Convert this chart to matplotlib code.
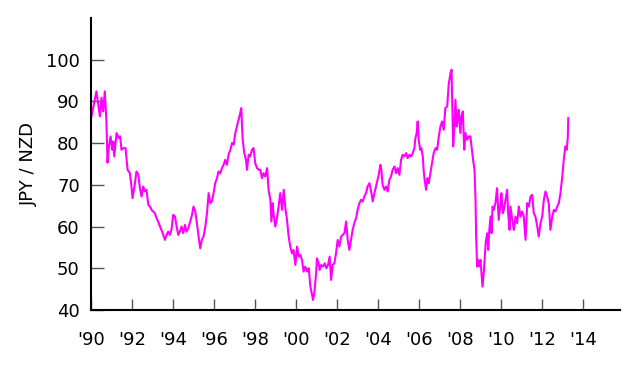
import numpy as np
import matplotlib
matplotlib.use("Agg")
import matplotlib.pyplot as plt

# JPY per NZD, decimal year vs rate
years = [
    1990.03, 1990.27, 1990.44, 1990.52, 1990.60, 1990.68, 1990.76, 1990.81, 1990.88, 1990.96,
    1991.04, 1991.09, 1991.14, 1991.25, 1991.37, 1991.43, 1991.49, 1991.58, 1991.69, 1991.79,
    1991.90, 1991.98, 1992.03, 1992.15, 1992.22, 1992.31, 1992.39, 1992.47, 1992.55, 1992.63,
    1992.71, 1992.80, 1992.88, 1992.96, 1993.04, 1993.12, 1993.20, 1993.28, 1993.37, 1993.44,
    1993.53, 1993.61, 1993.69, 1993.77, 1993.85, 1993.93, 1994.01, 1994.10, 1994.18, 1994.26,
    1994.34, 1994.42, 1994.50, 1994.59, 1994.66, 1994.75, 1994.93, 1995.00, 1995.09, 1995.17,
    1995.25, 1995.33, 1995.41, 1995.49, 1995.58, 1995.66, 1995.74, 1995.82, 1995.90, 1995.98,
    1996.06, 1996.15, 1996.22, 1996.31, 1996.39, 1996.47, 1996.55, 1996.63, 1996.71, 1996.80,
    1996.88, 1996.96, 1997.04, 1997.12, 1997.20, 1997.28, 1997.33, 1997.40, 1997.48, 1997.56,
    1997.61, 1997.69, 1997.77, 1997.85, 1997.93, 1998.01, 1998.10, 1998.18, 1998.26, 1998.34,
    1998.42, 1998.50, 1998.59, 1998.66, 1998.75, 1998.80, 1998.86, 1998.91, 1998.99, 1999.07,
    1999.15, 1999.23, 1999.32, 1999.40, 1999.48, 1999.56, 1999.64, 1999.72, 1999.80, 1999.88,
    1999.97, 2000.05, 2000.13, 2000.21, 2000.29, 2000.37, 2000.45, 2000.54, 2000.62, 2000.70,
    2000.78, 2000.83, 2000.89, 2000.98, 2001.02, 2001.10, 2001.15, 2001.23, 2001.32, 2001.40,
    2001.48, 2001.56, 2001.64, 2001.71, 2001.79, 2001.87, 2001.95, 2002.03, 2002.11, 2002.20,
    2002.27, 2002.36, 2002.44, 2002.52, 2002.60, 2002.68, 2002.76, 2002.84, 2002.93, 2003.00,
    2003.09, 2003.17, 2003.25, 2003.33, 2003.41, 2003.49, 2003.58, 2003.66, 2003.74, 2003.82,
    2003.90, 2004.03, 2004.11, 2004.16, 2004.22, 2004.31, 2004.39, 2004.47, 2004.55, 2004.63,
    2004.71, 2004.80, 2004.88, 2004.96, 2005.04, 2005.12, 2005.20, 2005.28, 2005.37, 2005.44,
    2005.53, 2005.61, 2005.69, 2005.77, 2005.82, 2005.88, 2005.93, 2005.98, 2006.05, 2006.11,
    2006.18, 2006.22, 2006.27, 2006.34, 2006.41, 2006.47, 2006.55, 2006.63, 2006.71, 2006.80,
    2006.88, 2006.96, 2007.04, 2007.12, 2007.20, 2007.28, 2007.37, 2007.44, 2007.53, 2007.58,
    2007.62, 2007.66, 2007.72, 2007.77, 2007.83, 2007.88, 2007.93, 2008.01, 2008.06, 2008.13,
    2008.20, 2008.26, 2008.34, 2008.42, 2008.50, 2008.63, 2008.70, 2008.75, 2008.78, 2008.83,
    2008.88, 2008.94, 2008.99, 2009.04, 2009.09, 2009.15, 2009.20, 2009.25, 2009.32, 2009.37,
    2009.41, 2009.48, 2009.53, 2009.58, 2009.64, 2009.72, 2009.80, 2009.88, 2009.97, 2010.01,
    2010.08, 2010.13, 2010.21, 2010.29, 2010.34, 2010.41, 2010.45, 2010.54, 2010.62, 2010.70,
    2010.78, 2010.86, 2010.94, 2011.02, 2011.10, 2011.19, 2011.27, 2011.35, 2011.43, 2011.51,
    2011.59, 2011.67, 2011.76, 2011.83, 2011.92, 2012.00, 2012.08, 2012.16, 2012.24, 2012.32,
    2012.40, 2012.49, 2012.57, 2012.65, 2012.73, 2012.81, 2012.89, 2012.98, 2013.05, 2013.13,
    2013.20, 2013.25, 2013.27,
]
rates = [
    86.4, 92.4, 86.4, 90.9, 87.6, 92.4, 84.9, 75.3, 79.2, 81.6,
    78.4, 80.4, 76.8, 82.4, 81.2, 81.6, 78.4, 78.8, 78.8, 73.6,
    72.8, 69.6, 66.8, 70.4, 73.2, 72.5, 69.2, 67.2, 69.6, 68.4,
    68.8, 65.2, 64.8, 64.0, 63.6, 63.2, 62.0, 61.2, 60.0, 59.2,
    58.0, 56.8, 58.0, 58.8, 58.0, 59.2, 62.8, 62.4, 60.0, 58.0,
    58.8, 60.0, 58.4, 60.4, 58.8, 59.6, 62.8, 64.8, 63.6, 60.8,
    57.6, 54.8, 56.8, 57.6, 60.0, 63.2, 68.0, 65.6, 66.0, 68.0,
    70.4, 71.6, 73.2, 72.8, 74.0, 74.8, 76.0, 74.8, 77.2, 78.4,
    80.0, 79.6, 82.4, 84.0, 85.6, 87.2, 88.4, 80.8, 77.6, 76.0,
    73.6, 77.2, 76.8, 78.4, 78.8, 75.2, 74.0, 73.6, 73.6, 71.6,
    72.8, 72.0, 74.0, 68.8, 66.4, 61.2, 65.6, 62.8, 60.0, 62.0,
    64.8, 68.0, 64.0, 68.8, 64.4, 61.6, 57.6, 55.2, 53.6, 54.4,
    50.8, 55.2, 52.8, 53.2, 52.0, 49.2, 50.4, 49.2, 50.0, 45.6,
    43.6, 42.4, 44.0, 48.8, 52.4, 51.2, 49.6, 50.8, 50.4, 51.2,
    50.0, 50.8, 52.8, 47.2, 50.8, 51.2, 53.6, 56.8, 55.2, 57.6,
    58.0, 58.4, 61.2, 56.8, 54.4, 56.8, 59.2, 60.8, 62.0, 64.0,
    65.6, 66.4, 66.0, 67.2, 68.0, 69.6, 70.4, 68.4, 66.0, 68.0,
    69.6, 72.4, 74.8, 73.6, 70.0, 68.8, 69.6, 68.4, 71.2, 72.0,
    73.6, 74.4, 72.8, 74.0, 72.4, 76.0, 77.2, 76.8, 77.6, 76.4,
    77.2, 76.8, 77.6, 78.8, 81.2, 82.4, 85.2, 80.8, 78.4, 78.8,
    76.8, 73.6, 71.2, 68.8, 71.6, 70.4, 72.8, 75.2, 77.6, 78.8,
    78.4, 81.6, 84.0, 85.2, 83.2, 88.4, 88.8, 94.0, 96.8, 97.6,
    88.0, 79.2, 84.0, 90.4, 84.0, 85.6, 88.0, 82.4, 86.4, 87.6,
    78.4, 82.4, 80.8, 81.6, 81.6, 76.0, 73.6, 66.4, 57.6, 50.4,
    52.0, 50.4, 52.0, 48.8, 45.6, 48.8, 52.8, 56.4, 58.4, 54.4,
    58.4, 62.4, 58.4, 64.8, 64.0, 65.6, 69.2, 61.6, 65.6, 68.0,
    63.2, 64.0, 66.4, 68.8, 63.2, 59.2, 64.8, 61.6, 59.2, 62.4,
    60.8, 64.8, 62.4, 63.6, 62.4, 56.8, 65.6, 64.8, 67.2, 67.6,
    63.2, 62.4, 60.0, 57.6, 60.8, 62.4, 66.4, 68.4, 67.2, 65.6,
    59.2, 62.4, 64.0, 63.6, 64.8, 65.6, 68.0, 72.0, 76.0, 79.2,
    78.4, 81.6, 86.0,
]

xticks = list(range(1990, 2015, 2))
xtick_labels = ["'%02d" % (y % 100) for y in xticks]
yticks = [40, 50, 60, 70, 80, 90, 100]

fig = plt.figure(figsize=(6.4, 3.66), dpi=100)
ax = fig.add_axes([0.142, 0.153, 0.827, 0.798])

ax.plot(years, rates, color='#ff00ff', linewidth=1.5)

ax.set_xlim(1990, 2015.8)
ax.set_ylim(40, 110)
ax.set_xticks(xticks)
ax.set_xticklabels(xtick_labels)
ax.set_yticks(yticks)

for side in ['top', 'right']:
    ax.spines[side].set_visible(False)
for side in ['left', 'bottom']:
    ax.spines[side].set_linewidth(1.5)
    ax.spines[side].set_color('black')

ax.tick_params(axis='x', direction='in', length=8, width=1, color='#555555',
               labelsize=13, pad=15)
ax.tick_params(axis='y', direction='in', length=9, width=1, color='#555555',
               labelsize=13, pad=8)
ax.set_ylabel('JPY / NZD', fontsize=13, labelpad=6)

fig.savefig('out.png', dpi=100)
